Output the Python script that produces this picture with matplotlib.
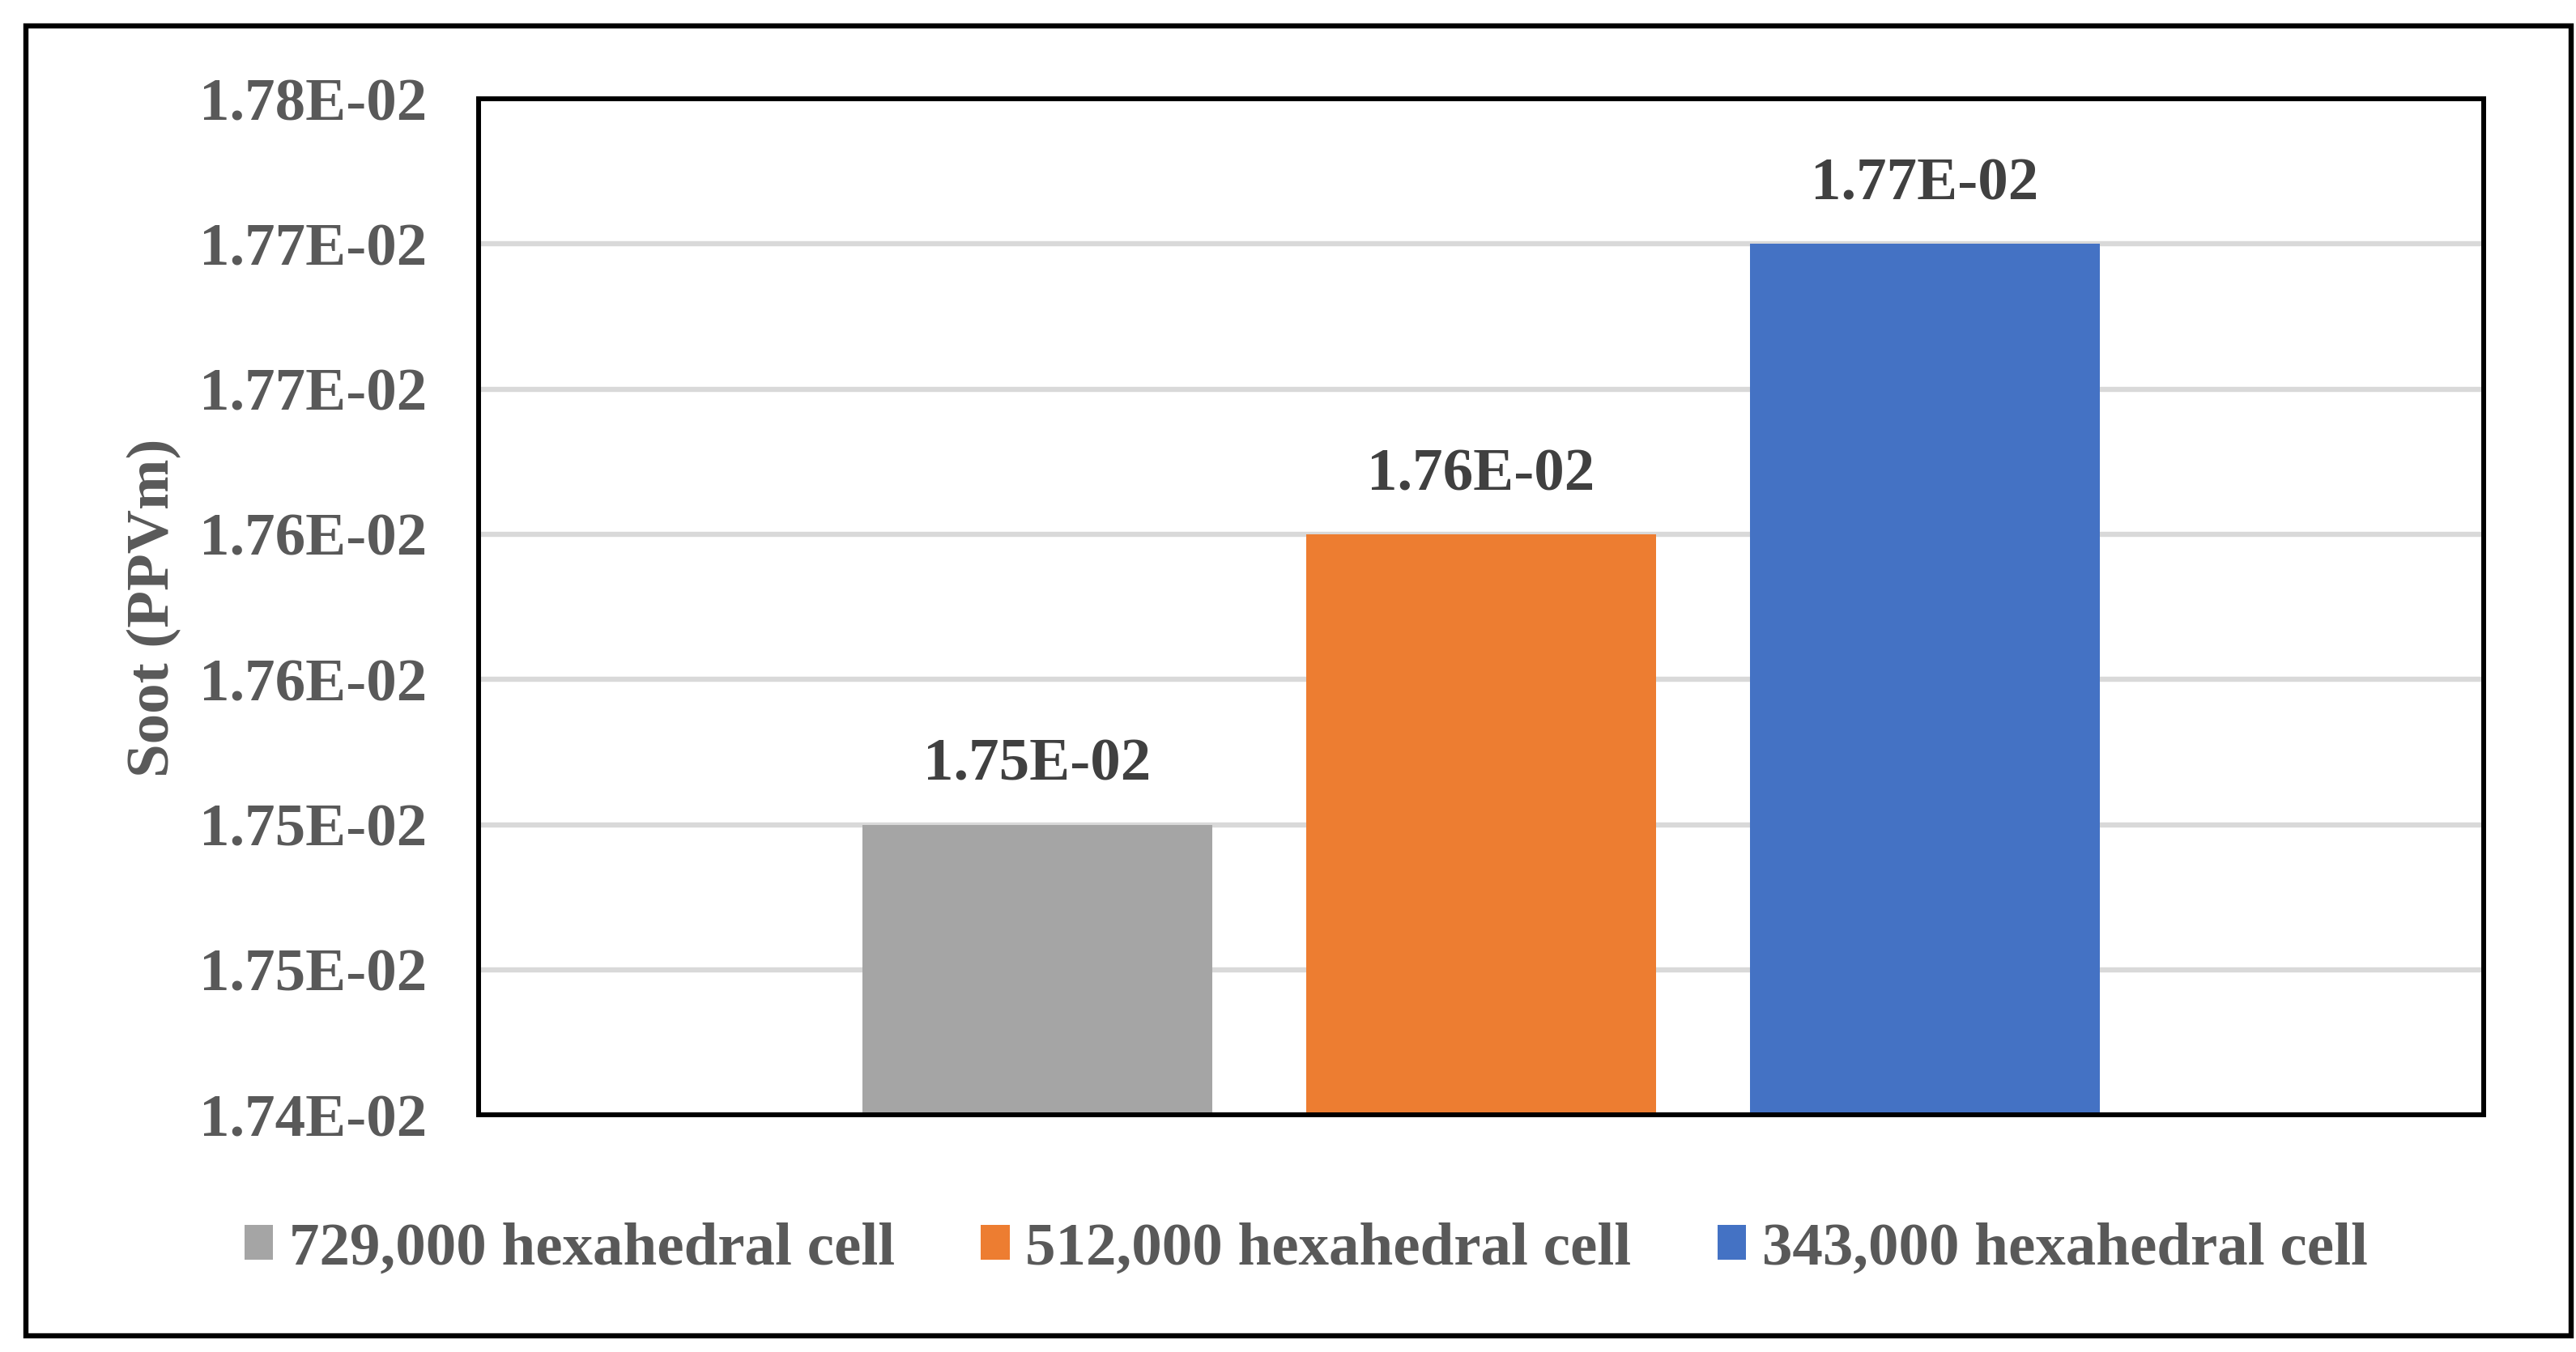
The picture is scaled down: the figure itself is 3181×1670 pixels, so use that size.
import matplotlib.pyplot as plt
import matplotlib.patches as patches
import numpy as np

# data
series = ["729,000 hexahedral cell", "512,000 hexahedral cell", "343,000 hexahedral cell"]
soot = [0.017545, 0.017645, 0.017745]
bar_labels = ["1.75E-02", "1.76E-02", "1.77E-02"]
colors = ["#A5A5A5", "#ED7D31", "#4472C4"]
yticks = [0.017445, 0.017495, 0.017545, 0.017595, 0.017645, 0.017695, 0.017745, 0.017795]
ytick_labels = ["1.74E-02", "1.75E-02", "1.75E-02", "1.76E-02",
                "1.76E-02", "1.77E-02", "1.77E-02", "1.78E-02"]

plt.rcParams['font.family'] = ['Liberation Serif', 'DejaVu Serif']
plt.rcParams['font.weight'] = 'bold'

fig = plt.figure(figsize=(31.81, 16.70), dpi=100)
ax = fig.add_axes([0.1858, 0.1754, 0.9642 - 0.1858, 0.9269 - 0.1754])

# outer frame
fig.patches.append(patches.Rectangle((32 / 3181, 1 - 1650 / 1670), (3175 - 32) / 3181, (1650 - 32) / 1670,
                                     transform=fig.transFigure, fill=False, edgecolor="black", linewidth=4.6))

spacing = 0.2213
width = 0.1745
xpos = (np.arange(len(soot)) - 1) * spacing
bars = ax.bar(xpos, np.array(soot) - yticks[0], width, bottom=yticks[0], color=colors, label=series, zorder=2)

for x, v, lab in zip(xpos, soot, bar_labels):
    ax.annotate(lab, (x, v), xytext=(0, 28), textcoords="offset points", ha="center", va="bottom",
                fontsize=54, fontweight="bold", color="#404040")

ax.set_xlim(-0.5, 0.5)
ax.set_ylim(yticks[0], yticks[-1])
ax.set_xticks([])
ax.set_yticks(yticks)
ax.set_yticklabels(ytick_labels)
ax.tick_params(axis="y", length=0, pad=46, labelsize=54, labelcolor="#595959")
ax.yaxis.grid(True, color="#D9D9D9", linewidth=4.6, zorder=0)
ax.set_axisbelow(True)
for s in ax.spines.values():
    s.set_linewidth(4.3)
    s.set_color("black")

fig.text(190 / 3181, 1 - 751 / 1670, "Soot (PPVm)", rotation=90, ha="center", va="center",
         fontsize=54, fontweight="bold", color="#595959")

leg = fig.legend(handles=list(bars), labels=series, loc="center", bbox_to_anchor=(0.507, 0.076), ncol=3,
                 frameon=False, fontsize=54, handlelength=0.47, handleheight=0.49,
                 handletextpad=0.26, columnspacing=1.42)
for t in leg.get_texts():
    t.set_color("#595959")

fig.savefig("out.png", dpi=100)
